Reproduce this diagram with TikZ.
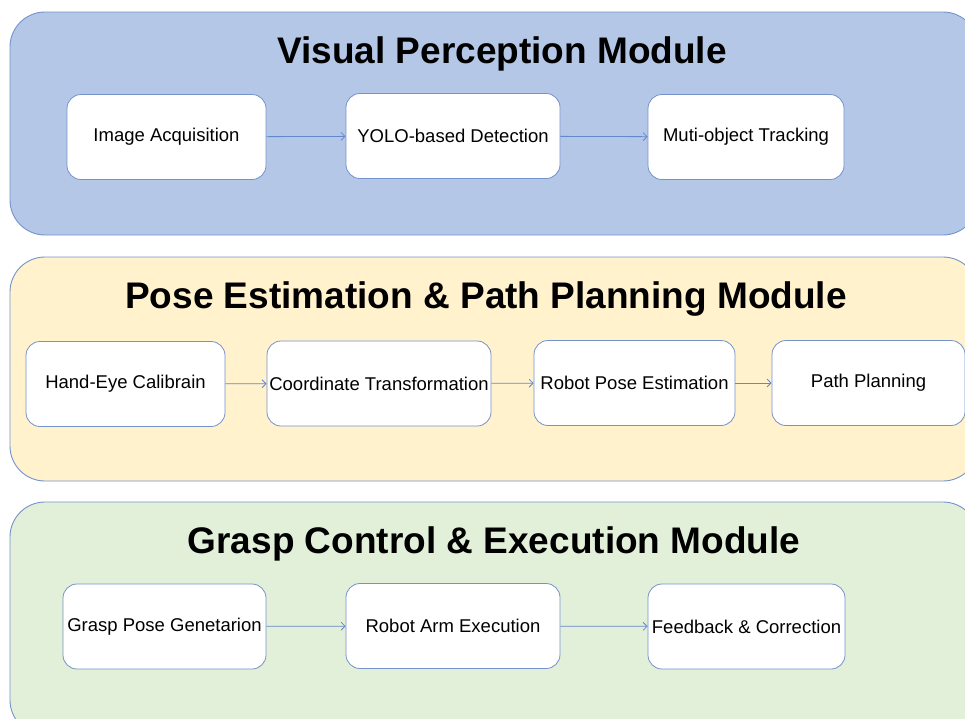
\documentclass[tikz,border=0pt]{standalone}
\usepackage{fontspec}
\setmainfont{Liberation Sans}
\usepackage{xcolor}
\usetikzlibrary{arrows.meta, positioning, calc}

\definecolor{bluPanel}{RGB}{180,199,231}
\definecolor{gialloPanel}{RGB}{255,242,204}
\definecolor{verdePanel}{RGB}{226,240,217}
\definecolor{bordo}{RGB}{116,146,204}
\definecolor{freccia}{RGB}{100,136,204}

\begin{document}
\begin{tikzpicture}[x=1pt, y=-1pt, >={Straight Barb[length=4pt,width=8pt]},
    panel/.style={draw=bordo, line width=0.9pt, rounded corners=35pt},
    title/.style={anchor=base, font=\fontsize{37}{40}\selectfont\bfseries},
    box/.style={draw=bordo, fill=white, line width=0.8pt, rounded corners=14pt,
        minimum width=#1, minimum height=85pt, inner sep=0pt,
        font=\fontsize{18.5}{22}\selectfont},
    link/.style={->, draw=freccia, line width=0.8pt}]
                    \useasboundingbox (0,0) rectangle (965,718);
                    \clip (0,0) rectangle (965,718);

                    % moduli
                    \draw[panel, fill=bluPanel] (10,12) rectangle (978,235);
                    \draw[panel, fill=gialloPanel] (10,257) rectangle (978,481);
                    \draw[panel, fill=verdePanel] (10,502) rectangle (978,735);

                    \node[title] (Titolo1) at (502,63) {Visual Perception Module};
                    \node[title] (Titolo2) at (486,308) {Pose Estimation \& Path Planning Module};
                    \node[title] (Titolo3) at (494,553) {Grasp Control \& Execution Module};

                    \node[box=199] (Visione1) at (166.5,137) {Image Acquisition};
                    \node[box=214] (Visione2) at (453,136) {YOLO-based Detection};
                    \node[box=196] (Visione3) at (746,137) {Muti-object Tracking};

                    \node[box=199] (Posa1) at (125.5,384) {Hand-Eye Calibrain};
                    \node[box=224] (Posa2) at (379,383.5) {Coordinate Transformation};
                    \node[box=201] (Posa3) at (634.5,383) {Robot Pose Estimation};
                    \node[box=193] (Posa4) at (868.5,383) {Path Planning};

                    \node[box=203] (Presa1) at (164.5,626.5) {Grasp Pose Genetarion};
                    \node[box=214] (Presa2) at (453,626) {Robot Arm Execution};
                    \node[box=197] (Presa3) at (746.5,626.5) {Feedback \& Correction};

                    \draw[link] (Visione1) to (Visione2);
                    \draw[link] (Visione2) to (Visione3);
                    \draw[link] (Posa1) to (Posa2);
                    \draw[link] (Posa2) to (Posa3);
                    \draw[link] (Posa3) to (Posa4);
                    \draw[link] (Presa1) to (Presa2);
                    \draw[link] (Presa2) to (Presa3);
                \end{tikzpicture}
\end{document}
